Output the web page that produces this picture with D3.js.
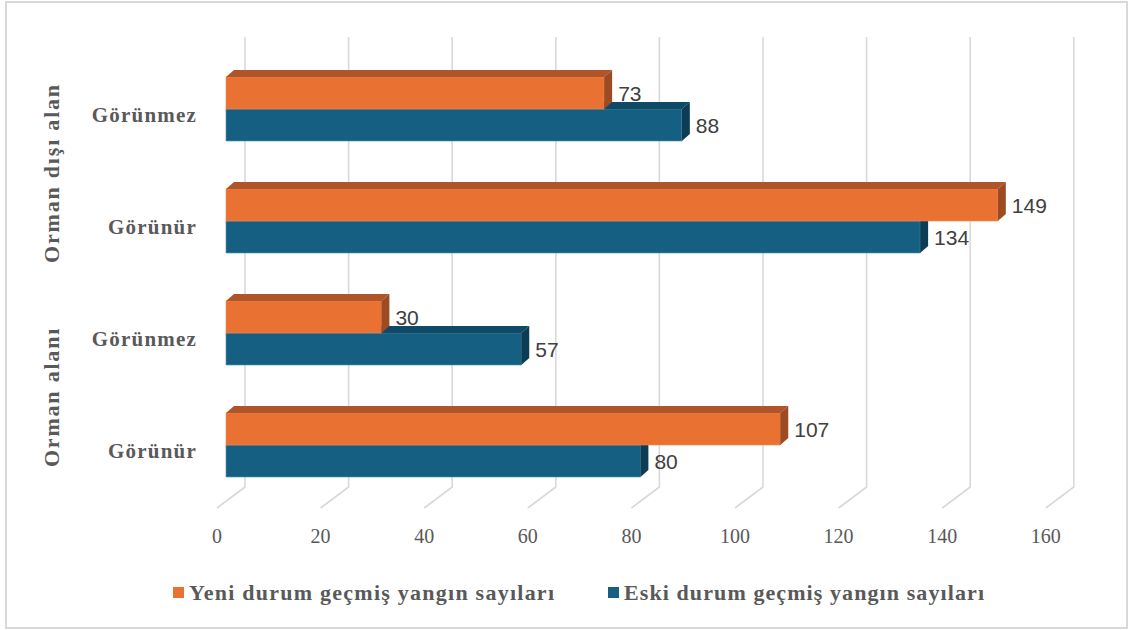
<!DOCTYPE html>
<html>
<head>
<meta charset="utf-8">
<script src="https://cdn.jsdelivr.net/npm/d3@7"></script>
<style>
  html, body { margin: 0; padding: 0; background: #ffffff; }
  svg { display: block; }
</style>
</head>
<body>
<svg id="chart" width="1132" height="630"></svg>
<script>
// ---- data ----
const groups = ["Orman dışı alan", "Orman alanı"];
const categories = ["Görünmez", "Görünür", "Görünmez", "Görünür"];
const categoryGroup = [0, 0, 1, 1];
const seriesNames = ["Yeni durum geçmiş yangın sayıları", "Eski durum geçmiş yangın sayıları"];
const yeniValues = [73, 149, 30, 107];
const eskiValues = [88, 134, 57, 80];
const tickValues = [0, 20, 40, 60, 80, 100, 120, 140, 160];

// ---- styles ----
const colors = {
  yeni: { front: "#E97132", top: "#B0552A", side: "#9E4A22", edge: "#F08A55" },
  eski: { front: "#156082", top: "#0F4A66", side: "#0D3D54", edge: "#4F8FAE" }
};
const gridColor = "#D9D9D9";
const textGray = "#595959";
const serif = "'Liberation Serif', 'Times New Roman', 'DejaVu Serif', serif";

const svg = d3.select("#chart");

// chart border
svg.append("rect")
  .attr("x", 6).attr("y", 2).attr("width", 1121).attr("height", 626)
  .attr("fill", "#fff").attr("stroke", gridColor).attr("stroke-width", 2);

// scales
const x = d3.scaleLinear().domain([0, 160]).range([226, 226 + 160 * 5.18]);
const keys = categories.map((c, i) => i);
const y = d3.scaleBand().domain(keys).range([53, 501])
  .paddingInner(48 / 112).paddingOuter(24 / 112);

const backDx = 19;
const floorDx = 28, floorDy = 21;
const gridTop = 37, gridBottom = 487;
const dX = 8, dY = 7;

// gridlines (3D walls)
const grid = svg.append("g");
tickValues.forEach(v => {
  const gx = x(v) + backDx;
  grid.append("path")
    .attr("d", `M${gx},${gridTop}L${gx},${gridBottom}L${gx - floorDx},${gridBottom + floorDy}`)
    .attr("fill", "none").attr("stroke", gridColor).attr("stroke-width", 1.6);
});

// tick labels
svg.append("g").selectAll("text").data(tickValues).join("text")
  .attr("x", d => x(d) + backDx - floorDx)
  .attr("y", 543)
  .attr("text-anchor", "middle")
  .attr("font-family", serif)
  .attr("font-size", 20)
  .attr("fill", textGray)
  .text(d => d);

// bars
function drawBar(g, x0, x1, top, h, c) {
  g.append("rect").attr("x", x0).attr("y", top).attr("width", x1 - x0).attr("height", h)
    .attr("fill", c.front).attr("stroke", c.edge).attr("stroke-width", 0.6);
  g.append("path")
    .attr("d", `M${x0},${top}L${x0 + dX},${top - dY}L${x1 + dX},${top - dY}L${x1},${top}Z`)
    .attr("fill", c.top);
  g.append("path")
    .attr("d", `M${x1},${top}L${x1 + dX},${top - dY}L${x1 + dX},${top + h - dY}L${x1},${top + h}Z`)
    .attr("fill", c.side);
}

const bh = y.bandwidth() / 2;
const barsG = svg.append("g");
keys.forEach(i => {
  const top = y(i);
  const g = barsG.append("g");
  drawBar(g, x(0), x(eskiValues[i]), top + bh, bh, colors.eski);
  drawBar(g, x(0), x(yeniValues[i]), top, bh, colors.yeni);
});

// value labels
const labelG = svg.append("g")
  .attr("font-family", "'Liberation Sans', Arial, sans-serif")
  .attr("font-size", 21).attr("fill", "#404040");
keys.forEach(i => {
  const top = y(i);
  labelG.append("text").attr("x", x(yeniValues[i]) + 14).attr("y", top + bh / 2 + 2)
    .attr("dominant-baseline", "middle").text(yeniValues[i]);
  labelG.append("text").attr("x", x(eskiValues[i]) + 14).attr("y", top + bh + bh / 2 + 2)
    .attr("dominant-baseline", "middle").text(eskiValues[i]);
});

// category labels
svg.append("g").selectAll("text").data(keys).join("text")
  .attr("x", 197)
  .attr("y", i => y(i) + bh + 8)
  .attr("text-anchor", "end")
  .attr("dominant-baseline", "middle")
  .attr("font-family", serif)
  .attr("font-weight", "bold")
  .attr("font-size", 21)
  .attr("letter-spacing", 1.2)
  .attr("fill", textGray)
  .text(i => categories[i]);

// group labels
groups.forEach((gname, gi) => {
  const idx = keys.filter(i => categoryGroup[i] === gi);
  const cy = d3.mean(idx, i => y(i) + bh + 8);
  svg.append("text")
    .attr("transform", `translate(54,${cy}) rotate(-90)`)
    .attr("text-anchor", "middle")
    .attr("dominant-baseline", "middle")
    .attr("font-family", serif)
    .attr("font-weight", "bold")
    .attr("font-size", 22)
    .attr("letter-spacing", 1.8)
    .attr("fill", textGray)
    .text(gname);
});

// legend
const legendItems = [
  { name: seriesNames[0], color: colors.yeni.front, x: 173, tlen: 365 },
  { name: seriesNames[1], color: colors.eski.front, x: 608, tlen: 360 }
];
legendItems.forEach(d => {
  svg.append("rect").attr("x", d.x).attr("y", 587).attr("width", 11).attr("height", 11).attr("fill", d.color);
  svg.append("text")
    .attr("x", d.x + 16).attr("y", 600)
    .attr("font-family", serif)
    .attr("font-weight", "bold")
    .attr("font-size", 22)
    .attr("textLength", d.tlen).attr("lengthAdjust", "spacing")
    .attr("fill", textGray)
    .text(d.name);
});
</script>
</body>
</html>
